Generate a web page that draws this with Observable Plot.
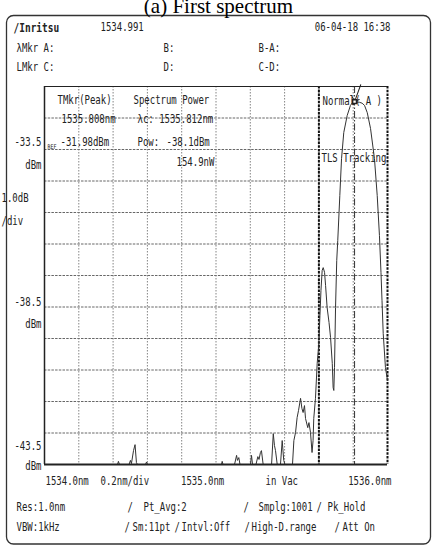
<!DOCTYPE html>
<html><head><meta charset="utf-8">
<script src="https://cdn.jsdelivr.net/npm/d3@7"></script>
<script src="https://cdn.jsdelivr.net/npm/@observablehq/plot@0.6"></script>
<style>body{margin:0;background:#fff}svg{display:block}</style>
</head><body><div id="chart"></div>
<script>
// ---- data (wavelength in nm, power in dBm) ----
const wavelengthNm = [
  1534.000,1534.426,1534.431,1534.437,1534.493,1534.501,1534.507,1534.519,1534.528,1534.536,
  1534.542,1534.589,1534.595,1534.601,1535.032,1535.036,1535.041,1535.108,1535.120,1535.125,
  1535.133,1535.140,1535.201,1535.207,1535.213,1535.233,1535.244,1535.251,1535.259,1535.265,
  1535.275,1535.324,1535.334,1535.341,1535.347,1535.357,1535.376,1535.386,1535.395,1535.402,
  1535.446,1535.454,1535.464,1535.473,1535.481,1535.493,1535.501,1535.508,1535.516,1535.522,
  1535.535,1535.542,1535.551,1535.560,1535.566,1535.570,1535.580,1535.590,1535.599,1535.606,
  1535.612,1535.619,1535.625,1535.633,1535.639,1535.648,1535.659,1535.668,1535.678,1535.683,
  1535.687,1535.691,1535.697,1535.704,1535.710,1535.722,1535.732,1535.745,1535.765,1535.784,
  1535.796,1535.808,1535.820,1535.836,1535.852,1535.866,1535.882,1535.901,1535.924,1535.940,
  1535.953,1535.962,1535.968,1535.975,1535.988,1536.000
];
const powerDbm = [
  -43.50,-43.50,-43.40,-43.50,-43.50,-43.37,-43.47,-43.06,-42.87,-43.44,
  -43.50,-43.50,-43.42,-43.50,-43.50,-43.40,-43.50,-43.50,-43.21,-43.37,
  -43.28,-43.50,-43.50,-43.21,-43.50,-43.50,-43.25,-43.34,-43.12,-43.06,
  -43.50,-43.50,-42.52,-42.90,-43.06,-43.50,-43.50,-42.74,-43.37,-43.50,
  -43.50,-42.74,-42.48,-42.01,-41.79,-41.40,-41.72,-41.85,-41.63,-42.04,
  -42.33,-42.17,-42.48,-43.12,-42.74,-42.04,-41.40,-40.29,-39.72,-38.77,
  -37.98,-37.34,-37.25,-37.40,-37.82,-38.52,-38.99,-39.47,-40.29,-41.06,
  -41.15,-40.42,-38.52,-37.02,-36.39,-34.96,-33.79,-32.96,-32.42,-32.10,
  -32.01,-31.98,-31.99,-32.00,-32.03,-32.10,-32.33,-32.83,-33.79,-34.96,
  -36.23,-37.40,-38.29,-39.34,-40.42,-40.83
];
const xGridNm = [1534.2,1534.4,1534.6,1534.8,1535.0,1535.2,1535.4,1535.6,1535.8];
const yGridDbm = [-32.5,-33.5,-34.5,-35.5,-36.5,-37.5,-38.5,-39.5,-40.5,-41.5,-42.5];
const yTickDbm = [-33.5,-38.5,-43.5];
const xTickNm = [1534.0,1535.0,1536.0];
const xTickLabels = ["1534.0nm","1535.0nm","1536.0nm"];
const powerBoundsNm = [1535.6,1536.0];
const markerNm = 1535.808;
const markerDbm = -31.98;

// ---- layout ----
const W = 436, H = 547, ML = 44, MR = 49, MT = 86, MB = 83;
const mono = "DejaVu Sans Mono";
const ink = "#222";
const FS = 9;
const instr = {fontFamily: mono, fontSize: FS, fill: ink, lineAnchor: "middle"};
function label(text, px, py, o = {}) {
  return Plot.text([text], {text: d => d, frameAnchor: "top-left", dx: px - ML, dy: py - MT,
    textAnchor: "start", ...instr, ...o});
}
const rows = wavelengthNm.map((w, i) => ({w, p: powerDbm[i]}));
const tickRows = xTickNm.map((w, i) => ({w, t: xTickLabels[i]}));
const yLab = (v, dy, txt) => Plot.text([v], {y: d => d, text: txt, frameAnchor: "left", textAnchor: "end", dx: -3, dy, ...instr});

const chart = Plot.plot({
  width: W, height: H, marginLeft: ML, marginRight: MR, marginTop: MT, marginBottom: MB,
  x: {domain: [1534, 1536], axis: null},
  y: {domain: [-43.5, -31.5], axis: null},
  style: {background: "#fff", overflow: "visible"},
  marks: [
    Plot.ruleY(yGridDbm, {stroke: "#555", strokeWidth: 0.9, strokeDasharray: "2.5,1.2"}),
    Plot.ruleX(xGridNm, {stroke: "#777", strokeWidth: 0.9, strokeDasharray: "1.5,1.5"}),
    Plot.ruleX([markerNm], {stroke: "#333", strokeWidth: 1, strokeDasharray: "7,2,1.5,2"}),
    Plot.ruleX(powerBoundsNm, {stroke: "#111", strokeWidth: 2, strokeDasharray: "2.5,1.2"}),
    Plot.ruleY([-31.5], {stroke: ink, strokeWidth: 1}),
    Plot.ruleX([1534], {stroke: ink, strokeWidth: 1.5}),
    Plot.line(rows, {x: "w", y: "p", stroke: "#333", strokeWidth: 1}),
    Plot.ruleY([-43.5], {stroke: ink, strokeWidth: 2}),
    // peak marker
    Plot.vector([{w: markerNm, p: markerDbm}], {x: "w", y: "p", length: 18, rotate: 200, anchor: "end", stroke: ink, strokeWidth: 1}),
    Plot.dot([{w: markerNm, p: markerDbm}], {x: "w", y: "p", symbol: "square", r: 2.2, stroke: ink, fill: "#fff"}),
    // y labels
    yLab(yTickDbm[0], -7, d => d.toFixed(1)), yLab(yTickDbm[0], 16, () => "dBm"),
    yLab(yTickDbm[1], -5, d => d.toFixed(1)), yLab(yTickDbm[1], 17, () => "dBm"),
    yLab(yTickDbm[2], -18, d => d.toFixed(1)), yLab(yTickDbm[2], 2, () => "dBm"),
    label("1.0dB", 1, 198),
    label("/div", 1, 221),
    label("REF", 47, 146, {fontSize: 5}),
    // x labels
    Plot.text([tickRows[0]], {x: "w", text: "t", frameAnchor: "bottom", textAnchor: "start", dx: 1, dy: 17, ...instr}),
    Plot.text([tickRows[1]], {x: "w", text: "t", frameAnchor: "bottom", textAnchor: "start", dx: -35, dy: 17, ...instr}),
    Plot.text([tickRows[2]], {x: "w", text: "t", frameAnchor: "bottom", textAnchor: "end", dx: 4, dy: 17, ...instr}),
    label("0.2nm/div", 100, 481),
    label("in Vac", 265, 481),
    // title
    Plot.text(["(a) First spectrum"], {text: d => d, frameAnchor: "top", lineAnchor: "middle", dx: 2.5, dy: 6 - MT, fontFamily: "Liberation Serif", fontSize: 21, fill: "#000"}),
    // header
    label("/Inritsu", 13, 27, {fontWeight: "bold", fontSize: 9.5}),
    label("1534.991", 100, 27),
    label("06-04-18 16:38", 390, 27, {textAnchor: "end"}),
    label("λMkr", 16, 48), label("A:", 43, 48), label("B:", 163, 48), label("B-A:", 258, 48),
    label("LMkr", 16, 67), label("C:", 43, 67), label("D:", 163, 67), label("C-D:", 258, 67),
    // in-plot annotations
    label("TMkr(Peak)", 57, 100),
    label("1535.808nm", 61, 119),
    label("-31.98dBm", 60, 142),
    label("Spectrum Power", 133, 100),
    label("λc: 1535.812nm", 137, 119),
    label("Pow:", 137, 142),
    label("-38.1dBm", 166, 142),
    label("154.9nW", 176, 162),
    label("Normal( A )", 322, 101),
    label("TLS Tracking", 321, 158),
    // footer
    label("Res:1.0nm", 16, 507), label("/", 127, 507), label("Pt_Avg:2", 143, 507),
    label("/", 243, 507), label("Smplg:1001", 258, 507), label("/", 316, 507), label("Pk_Hold", 327, 507),
    label("VBW:1kHz", 16, 527), label("/", 124, 527), label("Sm:11pt", 132, 527), label("/", 174, 527),
    label("Intvl:Off", 181, 527), label("/", 244, 527), label("High-D.range", 251, 527), label("/", 334, 527),
    label("Att On", 342, 527)
  ]
});
document.getElementById("chart").append(chart);

// outer instrument frame (decoration)
d3.select(chart).insert("rect", ":first-child")
  .attr("x", 6.5).attr("y", 15.5).attr("width", 424).attr("height", 528.5)
  .attr("rx", 7).attr("fill", "none").attr("stroke", "#333").attr("stroke-width", 1.3);

// the instrument lettering is tall and narrow: stretch the monospace glyphs vertically
chart.querySelectorAll("text").forEach(t => {
  if (getComputedStyle(t).fontFamily.includes("Mono")) {
    const b = t.getBBox();
    const cy = b.y + b.height / 2;
    const prev = t.getAttribute("transform") || "";
    t.setAttribute("transform", `${prev} translate(0,${cy.toFixed(2)}) scale(1,1.3) translate(0,${(-cy).toFixed(2)})`.trim());
  }
});
</script>
</body></html>
